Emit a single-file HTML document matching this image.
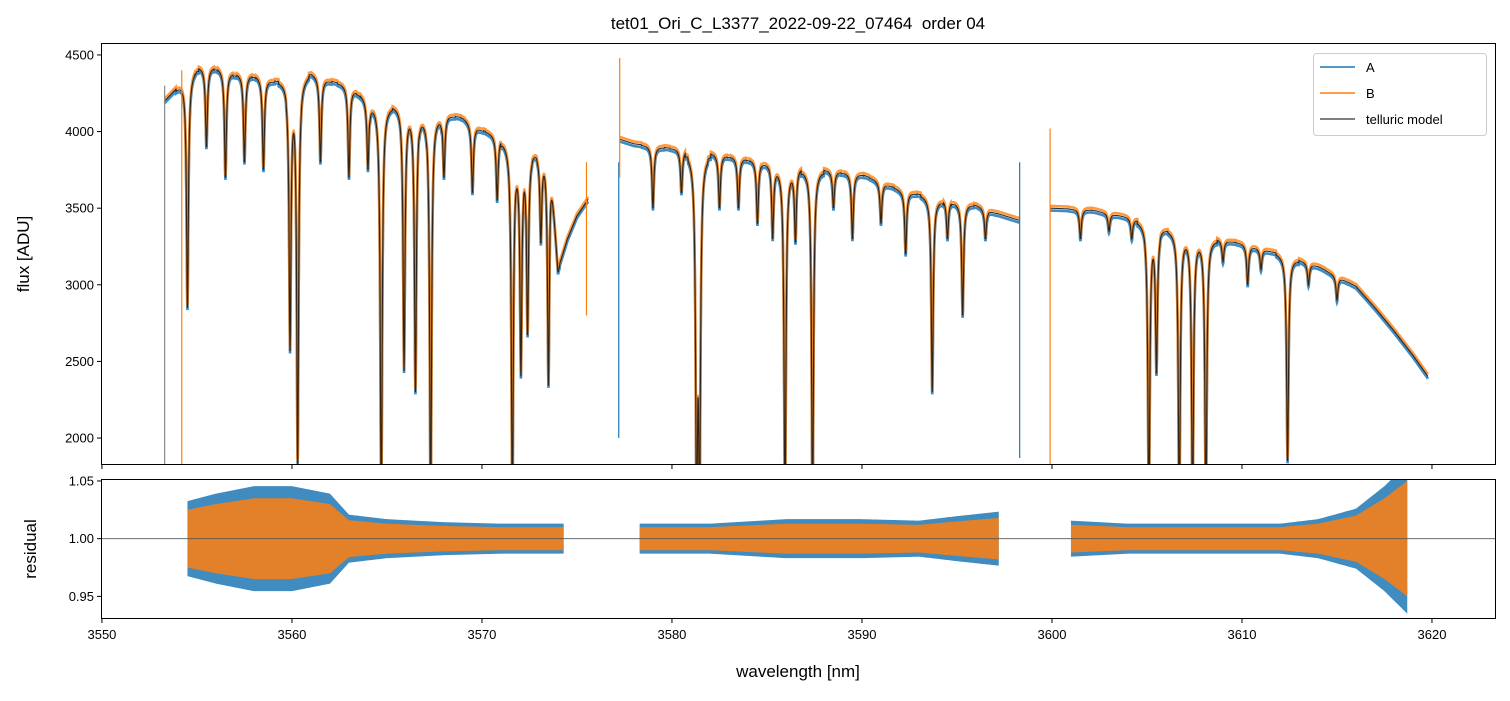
<!DOCTYPE html>
<html><head><meta charset="utf-8"><style>
html,body{margin:0;padding:0;background:#fff;}
svg text{font-family:"Liberation Sans","DejaVu Sans",sans-serif;fill:#000;}
</style></head><body>
<svg id="chart" width="1510" height="696" xmlns="http://www.w3.org/2000/svg">
<defs>
<clipPath id="clipTop"><rect x="101" y="43" width="1395" height="422"/></clipPath>
<clipPath id="clipBot"><rect x="101" y="479" width="1395" height="140"/></clipPath>
</defs>
<text x="798" y="29" font-size="17" text-anchor="middle" style="white-space:pre">tet01_Ori_C_L3377_2022-09-22_07464  order 04</text>
<g id="topPanel"></g>
<g id="botPanel"></g>
<rect x="101.5" y="43.5" width="1394" height="421" fill="none" stroke="#000" stroke-width="1"/>
<rect x="101.5" y="479.5" width="1394" height="139" fill="none" stroke="#000" stroke-width="1"/>
<g id="axesG"></g>
<text transform="translate(29,254) rotate(-90)" font-size="17" text-anchor="middle">flux [ADU]</text>
<text transform="translate(36,549) rotate(-90)" font-size="17" text-anchor="middle">residual</text>
<text x="798" y="677" font-size="17" text-anchor="middle">wavelength [nm]</text>
<g>
<rect x="1313.5" y="53.5" width="173" height="82" rx="3" fill="#fff" fill-opacity="0.85" stroke="#ccc"/>
<line x1="1320" y1="67" x2="1355" y2="67" stroke="#1f77b4" stroke-width="1.5"/>
<text x="1366" y="72" font-size="13">A</text>
<line x1="1320" y1="93" x2="1355" y2="93" stroke="#ff7f0e" stroke-width="1.5"/>
<text x="1366" y="98" font-size="13">B</text>
<line x1="1320" y1="119" x2="1355" y2="119" stroke="#555" stroke-width="1.5"/>
<text x="1366" y="124" font-size="13">telluric model</text>
</g>
</svg>
<script>
// ---- data ----
const segStarts = [3553.3, 3577.25, 3599.9];
const segEnds = [3575.6, 3598.3, 3619.8];
const contWl = [3553.3,3555,3556,3557,3558,3559,3560,3561,3562,3563,3564,3565,3566,3567,3568,3569,3570,3571,3572,3573,3573.6,3574,3574.5,3575,3575.6,
  3577.25,3578,3580,3582,3584,3586,3588,3590,3592,3594,3596,3597,3598.3,
  3599.9,3602,3604,3606,3608,3610,3612,3614,3616,3617,3618,3619,3619.8];
const contFlux = [4200,4420,4420,4380,4370,4330,4320,4380,4330,4300,4200,4170,4160,4120,4110,4090,4010,3960,3870,3880,3850,3100,3300,3450,3560,
  3950,3920,3890,3860,3820,3770,3750,3720,3620,3560,3520,3470,3420,
  3500,3490,3440,3360,3310,3270,3200,3120,2990,2850,2700,2540,2400];
const lineWl = [3554.5,3559.9,3560.3,3564.7,3565.9,3566.5,3567.3,3571.6,3572.05,3572.4,3573.5,3581.3,3581.45,3585.95,3587.4,3593.7,3595.3,3605.1,3605.5,3606.7,3607.4,3608.1,3612.4,
  3555.5,3556.5,3557.5,3558.5,3561.5,3563,3564,3568,3569.5,3570.8,3573.1,3579,3580.5,3582.5,3583.5,3584.5,3585.3,3586.5,3588.5,3589.5,3591,3592.3,3594.5,3596.5,3601.5,3603,3604.2,3609,3610.3,3611,3613.5,3615];
const lineMin = [2850,2600,1850,1500,2450,2300,1500,1500,2450,2700,2350,1500,1600,1500,1500,2300,2800,1500,2450,1500,1500,1500,1850,
  3900,3700,3800,3750,3800,3700,3750,3700,3600,3550,3300,3500,3600,3500,3500,3400,3300,3300,3500,3300,3400,3200,3300,3300,3300,3350,3300,3150,3000,3100,3000,2900];
const spikeWl = [3553.3,3554.2,3575.5,3577.2,3577.25,3598.3,3599.9];
const spikeLo = [1700,1700,2800,2000,3700,1870,1700];
const spikeHi = [4300,4400,3800,3800,4480,3800,4020];
const spikeSeries = ["gray","B","B","A","B","A","B"];
const resStart = [3554.5,3578.3,3601];
const resEnd = [3574.3,3597.2,3618.7];
const envWl = [[3554.5,3556,3558,3560,3562,3563,3565,3568,3571,3574.3],[3578.3,3582,3586,3590,3593,3595,3597.2],[3601,3604,3608,3612,3614,3616,3617.5,3618.7]];
const envAmp = [[0.025,0.03,0.035,0.035,0.03,0.016,0.013,0.011,0.01,0.01],[0.01,0.01,0.013,0.013,0.012,0.015,0.018],[0.012,0.01,0.01,0.01,0.013,0.02,0.035,0.05]];
const xTicks = [3550,3560,3570,3580,3590,3600,3610,3620];
const yTicksTop = [2000,2500,3000,3500,4000,4500];
const yTicksBot = [0.95,1.00,1.05];
const yTickLabelsBot = ["0.95","1.00","1.05"];
// ---- scales ----
const X0=101,X1=1496, W0=3549.95, W1=3623.37;
const xs = w => X0+(w-W0)/(W1-W0)*(X1-X0);
const yT = f => 43+(4578-f)/(4578-1824)*422;
const yB = r => 479+(1.0517-r)/(1.0517-0.9304)*140;
const NS="http://www.w3.org/2000/svg";
function mk(tag, attrs, parent){const e=document.createElementNS(NS,tag);for(const k in attrs)e.setAttribute(k,attrs[k]);parent.appendChild(e);return e;}
function interp(xa,ya,x){if(x<=xa[0])return ya[0];for(let i=1;i<xa.length;i++){if(x<=xa[i]){const t=(x-xa[i-1])/(xa[i]-xa[i-1]);return ya[i-1]+t*(ya[i]-ya[i-1]);}}return ya[ya.length-1];}
function model(w){let c=interp(contWl,contFlux,w);let f=c;for(let i=0;i<lineWl.length;i++){const dw=w-lineWl[i];if(Math.abs(dw)>0.6)continue;const lc=interp(contWl,contFlux,lineWl[i]);const d=Math.min(0.99,1-lineMin[i]/lc);const g=1/(1+(dw/0.06)*(dw/0.06));f*=(1-d*g);}return f;}
const topG=document.getElementById('topPanel'), botG=document.getElementById('botPanel'), axesG=document.getElementById('axesG');
const gT=mk('g',{'clip-path':'url(#clipTop)'},topG);
const seriesList=[{n:'A',c:'#1f77b4',off:-15,wd:2.6,op:0.85},{n:'B',c:'#ff7f0e',off:15,wd:2.6,op:0.8},{n:'model',c:'#1a1a1a',off:0,wd:1.1,op:0.9}];
seriesList.forEach(s=>{
  for(let k=0;k<segStarts.length;k++){
    let d='';
    for(let w=segStarts[k];w<=segEnds[k];w+=0.01){const f=model(w)+s.off;d+=(d?'L':'M')+xs(w).toFixed(2)+','+yT(f).toFixed(2);}
    const p=mk('path',{d:d,fill:'none',stroke:s.c,'stroke-width':s.wd,'stroke-opacity':s.op},gT);
    
    
  }
});
for(let i=0;i<spikeWl.length;i++){
  const c=spikeSeries[i]==='A'?'#1f77b4':spikeSeries[i]==='B'?'#ff7f0e':'#888';
  const l=mk('line',{x1:xs(spikeWl[i]),x2:xs(spikeWl[i]),y1:yT(spikeLo[i]),y2:yT(spikeHi[i]),stroke:c,'stroke-width':1.2},gT);
  
  
}
const gB=mk('g',{'clip-path':'url(#clipBot)'},botG);
[{c:'#1f77b4',s:1.3,op:0.85},{c:'#ff7f0e',s:1.0,op:0.85}].forEach((st,j)=>{
  for(let k=0;k<resStart.length;k++){
    let up='',dn=[];
    for(let w=resStart[k];w<=resEnd[k]+1e-9;w+=0.05){const a=interp(envWl[k],envAmp[k],w)*st.s;up+=(up?'L':'M')+xs(w).toFixed(2)+','+yB(1+a).toFixed(2);dn.push(xs(w).toFixed(2)+','+yB(1-a).toFixed(2));}
    const p=mk('path',{d:up+'L'+dn.reverse().join('L')+'Z',fill:st.c,'fill-opacity':st.op},gB);
    
    
  }
});
const refLine=mk('line',{x1:101,x2:1496,y1:yB(1),y2:yB(1),stroke:'#555','stroke-width':0.8},botG);


xTicks.forEach(t=>{
  const x=xs(t);
  mk('line',{x1:x,x2:x,y1:465,y2:469,stroke:'#000'},axesG);
  mk('line',{x1:x,x2:x,y1:619,y2:623,stroke:'#000'},axesG);
  const tx=mk('text',{x:x,y:639,'font-size':13,'text-anchor':'middle'},axesG);
  tx.textContent=t;
  
  
});
yTicksTop.forEach(t=>{
  const y=yT(t);
  mk('line',{x1:97,x2:101,y1:y,y2:y,stroke:'#000'},axesG);
  const tx=mk('text',{x:94,y:y+4.5,'font-size':13,'text-anchor':'end'},axesG);
  tx.textContent=t;
  
  
});
yTicksBot.forEach((t,i)=>{
  const y=yB(t);
  mk('line',{x1:97,x2:101,y1:y,y2:y,stroke:'#000'},axesG);
  const tx=mk('text',{x:94,y:y+4.5,'font-size':13,'text-anchor':'end'},axesG);
  tx.textContent=yTickLabelsBot[i];
  
  
});
</script>
</body></html>
